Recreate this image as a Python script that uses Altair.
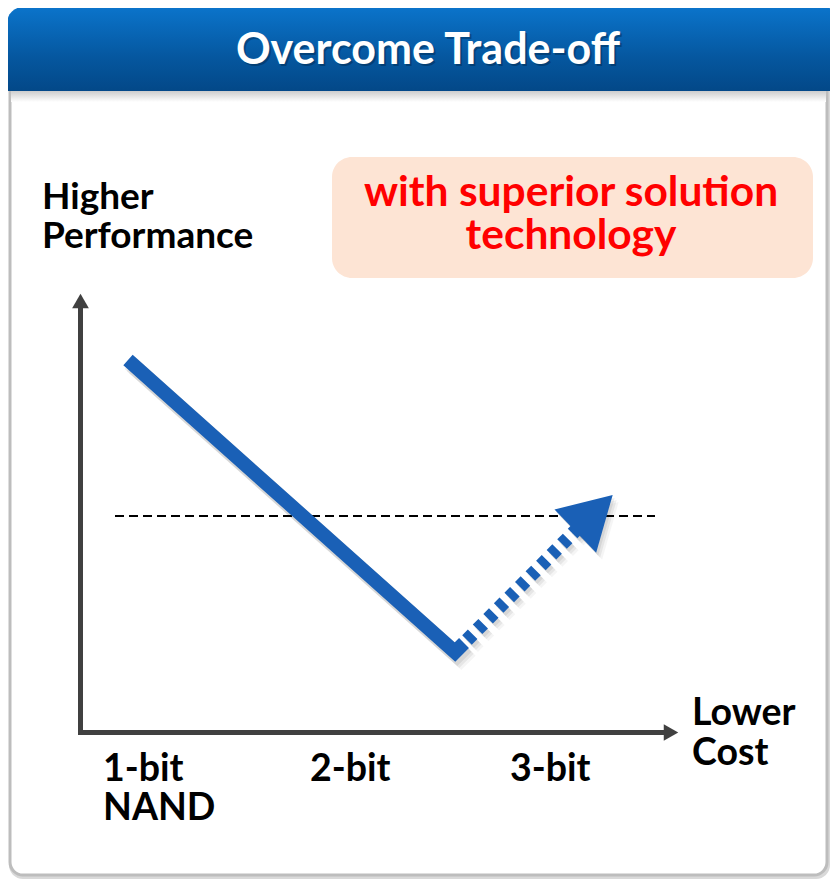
import altair as alt
import pandas as pd

# ---- canvas coordinates (page pixels, y grows downward) ----
X0, X1 = 8, 830
Y0, Y1 = 8, 880
W, H = X1 - X0, Y1 - Y0

title_text = "Overcome Trade-off"
note_lines = ["with superior solution", "technology"]
y_title_lines = ["Higher", "Performance"]
x_title_lines = ["Lower", "Cost"]
tick_labels = ["1-bit", "2-bit", "3-bit"]
tick_sub = ["NAND", "", ""]

# performance trade-off curve (solid) and the improved path (dashed)
trade_x = [128, 455, 464]
trade_y = [360, 652, 643]
improve_x = [467, 577]
improve_y = [640, 529]
arrow_head = {"x": [594], "y": [513]}
threshold_x = [115, 655]
threshold_y = [516, 516]

# axis geometry
yaxis_x = [80.5, 80.5]
yaxis_y = [735, 305]
xaxis_x = [78, 665]
xaxis_y = [732.5, 732.5]

xs = alt.Scale(domain=[X0, X1], nice=False, zero=False)
ys = alt.Scale(domain=[Y0, Y1], nice=False, zero=False, reverse=True)

def X(f="x"):
    return alt.X(f"{f}:Q", scale=xs, axis=None)

def Y(f="y"):
    return alt.Y(f"{f}:Q", scale=ys, axis=None)

# frame
frame_sh = alt.Chart(pd.DataFrame({"x": [9], "x2": [830], "y": [12], "y2": [879]})).mark_rect(
    fill="#d9d9d9", cornerRadius=14
).encode(x=X(), x2="x2:Q", y=Y(), y2="y2:Q")
frame = alt.Chart(pd.DataFrame({"x": [10], "x2": [827], "y": [10], "y2": [875]})).mark_rect(
    fill="white", stroke="#bdbdbd", strokeWidth=3, cornerRadius=13
).encode(x=X(), x2="x2:Q", y=Y(), y2="y2:Q")

hdr_shadow = alt.Chart(pd.DataFrame({"x": [11], "x2": [826], "y": [90], "y2": [102]})).mark_rect(
    fill=alt.LinearGradient(gradient="linear",
                            stops=[alt.GradientStop(color="#c8c8c8", offset=0),
                                   alt.GradientStop(color="#ffffff", offset=1)],
                            x1=0, x2=0, y1=0, y2=1)
).encode(x=X(), x2="x2:Q", y=Y(), y2="y2:Q")

header = alt.Chart(pd.DataFrame({"x": [7], "x2": [840], "y": [7], "y2": [91]})).mark_rect(
    fill=alt.LinearGradient(gradient="linear",
                            stops=[alt.GradientStop(color="#0b74cb", offset=0),
                                   alt.GradientStop(color="#05579f", offset=0.6),
                                   alt.GradientStop(color="#034888", offset=1)],
                            x1=0, x2=0, y1=0, y2=1),
    cornerRadiusTopLeft=16, cornerRadiusTopRight=16
).encode(x=X(), x2="x2:Q", y=Y(), y2="y2:Q")

title_df = pd.DataFrame({"x": [428], "y": [64], "t": [title_text]})
title_sh = alt.Chart(title_df).mark_text(
    font="Lato", fontWeight="bold", fontSize=43, color="#001a33", opacity=0.35,
    align="center", baseline="alphabetic", dx=2, dy=2
).encode(x=X(), y=Y(), text="t:N")
title = alt.Chart(title_df).mark_text(
    font="Lato", fontWeight="bold", fontSize=43, color="white",
    align="center", baseline="alphabetic"
).encode(x=X(), y=Y(), text="t:N")

# note box
box = alt.Chart(pd.DataFrame({"x": [332], "x2": [813], "y": [157], "y2": [278]})).mark_rect(
    fill="#fde4d4", cornerRadius=20
).encode(x=X(), x2="x2:Q", y=Y(), y2="y2:Q")
note = alt.Chart(pd.DataFrame({"x": [571, 571], "y": [206, 249], "t": note_lines})).mark_text(
    font="Lato", fontWeight="bold", fontSize=42.5, color="#ff0000",
    align="center", baseline="alphabetic"
).encode(x=X(), y=Y(), text="t:N")

# threshold dashed line
thr = alt.Chart(pd.DataFrame({"x": threshold_x, "y": threshold_y})).mark_line(
    color="black", strokeWidth=2, strokeDash=[9, 5]
).encode(x=X(), y=Y())

# axes
yaxis = alt.Chart(pd.DataFrame({"x": yaxis_x, "y": yaxis_y})).mark_line(
    color="#404040", strokeWidth=5
).encode(x=X(), y=Y())
xaxis = alt.Chart(pd.DataFrame({"x": xaxis_x, "y": xaxis_y})).mark_line(
    color="#404040", strokeWidth=5
).encode(x=X(), y=Y())
yhead = alt.Chart(pd.DataFrame({"x": [80.5], "y": [301]})).mark_point(
    shape="triangle-up", filled=True, size=280, color="#404040", opacity=1
).encode(x=X(), y=Y())
xhead = alt.Chart(pd.DataFrame({"x": [671], "y": [732.5]})).mark_point(
    shape="triangle-right", filled=True, size=280, color="#404040", opacity=1
).encode(x=X(), y=Y())

# trade-off curve
trade_df = pd.DataFrame({"x": trade_x, "y": trade_y, "i": range(len(trade_x))})
imp_df = pd.DataFrame({"x": improve_x, "y": improve_y, "i": [0, 1]})

shadows = []
for off, op in [(3, 0.07), (5, 0.06), (7, 0.04)]:
    shadows.append(alt.Chart(trade_df).mark_line(
        color="#000000", opacity=op, strokeWidth=16, strokeJoin="miter", xOffset=off - 1, yOffset=off
    ).encode(x=X(), y=Y(), order="i:Q"))
    shadows.append(alt.Chart(imp_df).mark_line(
        color="#000000", opacity=op, strokeWidth=14, strokeDash=[8, 7], xOffset=off - 1, yOffset=off
    ).encode(x=X(), y=Y(), order="i:Q"))
    shadows.append(alt.Chart(pd.DataFrame(arrow_head)).mark_point(
        shape="triangle-up", filled=True, size=3600, angle=46, color="#000000", opacity=op,
        xOffset=off - 1, yOffset=off
    ).encode(x=X(), y=Y()))

trade = alt.Chart(trade_df).mark_line(
    color="#1a60b6", strokeWidth=14, strokeJoin="miter", strokeCap="butt"
).encode(x=X(), y=Y(), order="i:Q")
imp = alt.Chart(imp_df).mark_line(
    color="#1a60b6", strokeWidth=13.5, strokeDash=[8, 7], strokeCap="butt"
).encode(x=X(), y=Y(), order="i:Q")
head = alt.Chart(pd.DataFrame(arrow_head)).mark_point(
    shape="triangle-up", filled=True, size=3600, angle=46, color="#1a60b6", opacity=1
).encode(x=X(), y=Y())

# labels
lab_rows = {
    "x": [42, 42, 103, 103, 310, 510, 692, 692],
    "y": [209, 248, 781, 820, 781, 781, 725, 765],
    "t": [y_title_lines[0], y_title_lines[1], tick_labels[0], tick_sub[0],
          tick_labels[1], tick_labels[2], x_title_lines[0], x_title_lines[1]],
    "s": [37, 37, 37.5, 37.5, 37.5, 37.5, 37.5, 37.5],
}
labels = alt.Chart(pd.DataFrame(lab_rows)).mark_text(
    font="Lato", fontWeight="bold", color="black",
    align="left", baseline="alphabetic"
).encode(x=X(), y=Y(), text="t:N", size=alt.Size("s:Q", scale=None, legend=None))

chart = alt.layer(
    frame_sh, frame, hdr_shadow, header, title_sh, title, box, note, thr,
    yaxis, xaxis, yhead, xhead,
    *shadows, trade, imp, head, labels
).properties(
    width=W, height=H, padding=0, autosize=alt.AutoSizeParams(type="none")
).configure_view(stroke=None)

chart.save("out.html", embed_options={"renderer": "svg", "actions": False})
